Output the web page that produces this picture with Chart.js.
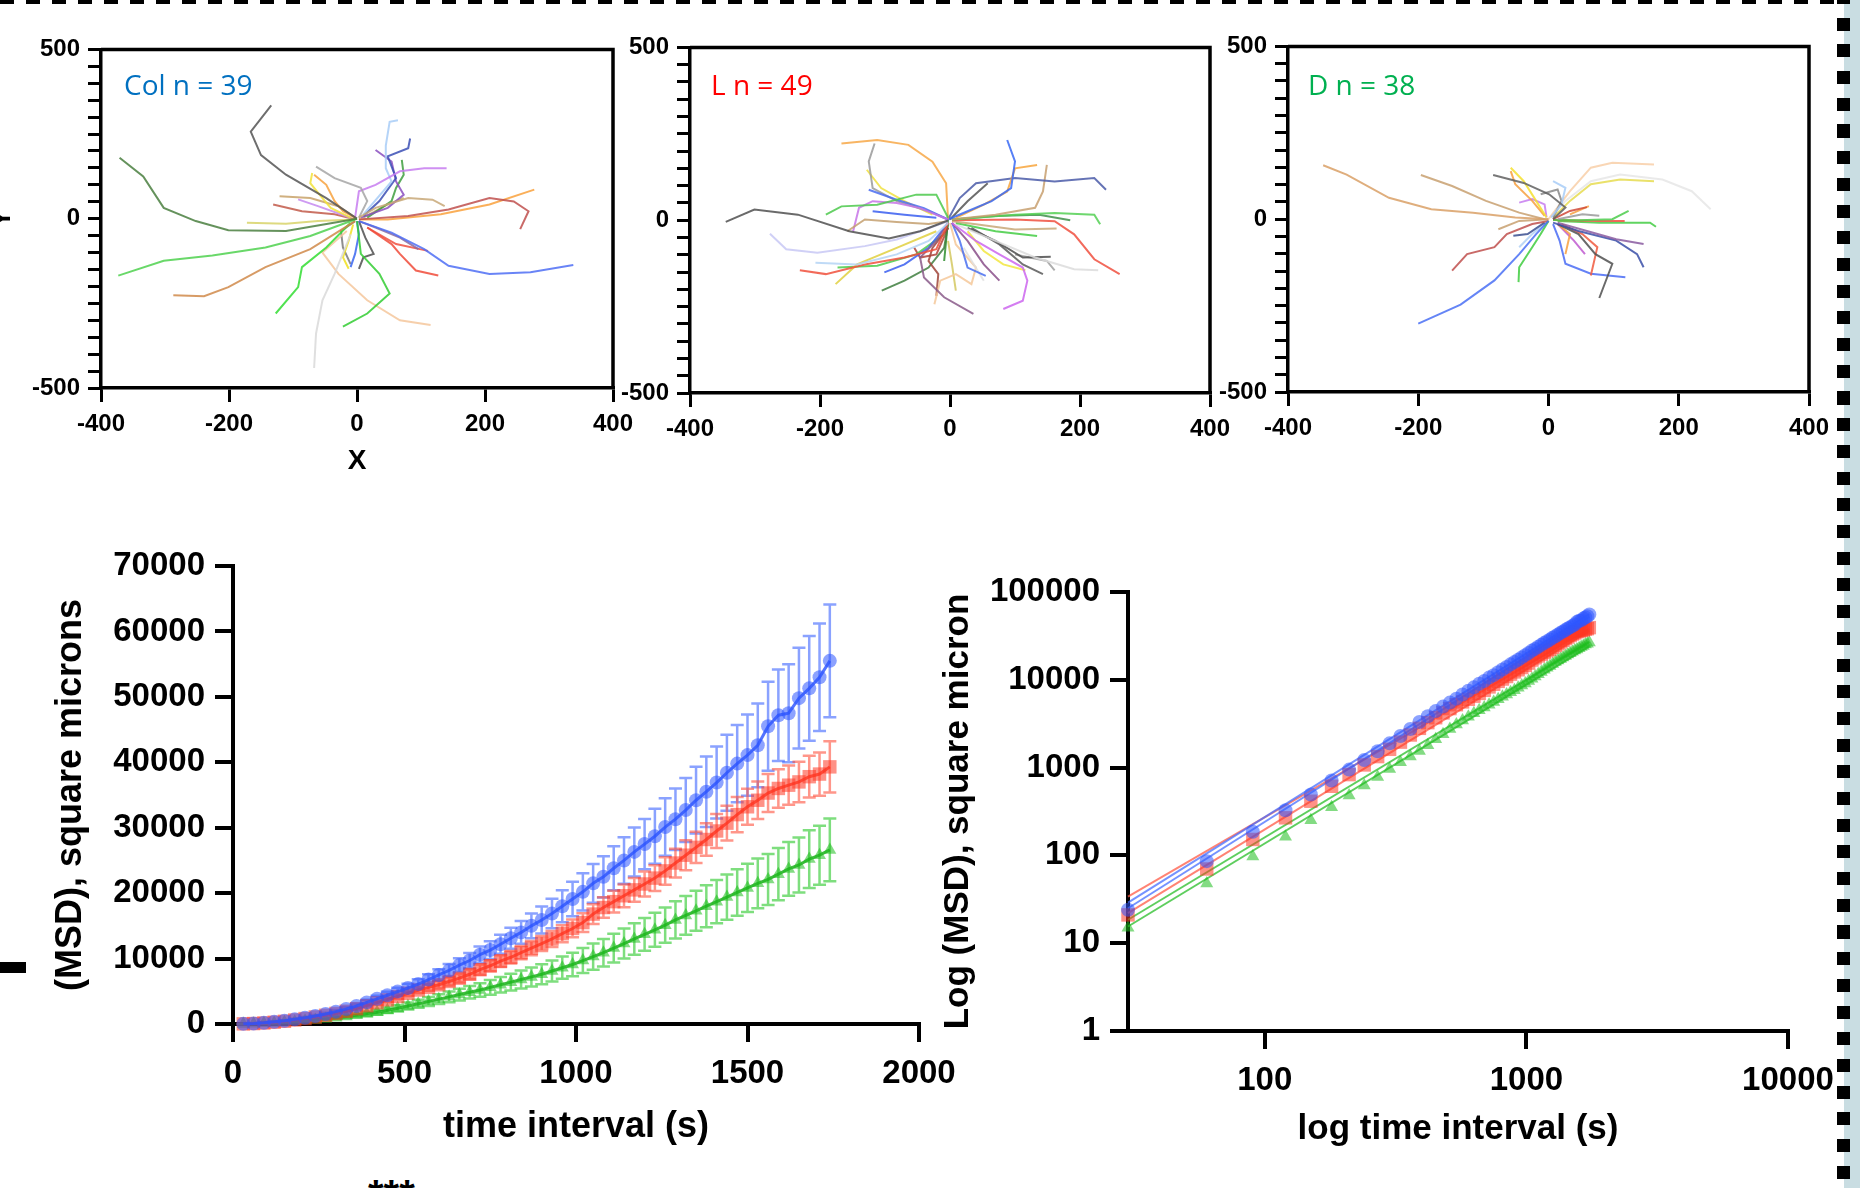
<!DOCTYPE html>
<html><head><meta charset="utf-8">
<script src="https://cdn.jsdelivr.net/npm/chart.js@4.4.1/dist/chart.umd.min.js"></script>
<style>
html,body{margin:0;padding:0;background:#fff;}
#page{position:relative;width:1860px;height:1188px;overflow:hidden;background:#fff;}
canvas{position:absolute;}
.txt{position:absolute;white-space:nowrap;line-height:28px;}
</style></head><body><div id="page">
<div style="position:absolute;left:1844px;top:0;width:16px;height:1188px;background:#c9dde2"></div>
<div style="position:absolute;left:0;top:0;width:1834px;height:4px;background:repeating-linear-gradient(90deg,#000 0 14px,transparent 14px 26px)"></div>
<div style="position:absolute;left:1837px;top:-9px;width:13px;height:1200px;background:repeating-linear-gradient(180deg,#000 0 13px,transparent 13px 26.7px)"></div>
<div style="position:absolute;left:0;top:962px;width:26px;height:11px;background:#000"></div>
<div class="txt" style="left:368px;top:1174px;font:bold 40px 'Liberation Sans',Arial,sans-serif;line-height:40px;color:#000">***</div>
<canvas id="c1"></canvas><canvas id="c2"></canvas><canvas id="c3"></canvas>
<canvas id="c4"></canvas><canvas id="c5"></canvas>
<div class="txt" style="left:124px;top:65px;font:28px 'Open Sans',sans-serif;color:#0070C0">Col n = 39</div>
<div class="txt" style="left:711px;top:65px;font:28px 'Open Sans',sans-serif;color:#FF0000">L n = 49</div>
<div class="txt" style="left:1308px;top:65px;font:28px 'Open Sans',sans-serif;color:#00B050">D n = 38</div>
</div>
<script>
// ---------------- DATA ----------------
const timeSec = [30,60,90,120,150,180,210,240,270,300,330,360,390,420,450,480,510,540,570,600,630,660,690,720,750,780,810,840,870,900,930,960,990,1020,1050,1080,1110,1140,1170,1200,1230,1260,1290,1320,1350,1380,1410,1440,1470,1500,1530,1560,1590,1620,1650,1680,1710,1740];
const msdCol = [24,86,186,327,493,712,949,1222,1535,1890,2290,2750,3300,3850,4400,4950,5500,6100,6800,7500,8200,9000,9700,10600,11300,12200,13100,14000,15000,15900,16900,18000,19100,20200,21500,22500,23800,25000,26300,27500,28700,30100,31300,32700,34200,35500,36900,38400,39800,41100,42600,45500,47200,47500,49800,51300,53000,55500];
const msdL = [21,70,152,268,414,613,832,1072,1334,1615,1950,2350,2800,3250,3700,4200,4700,5200,5600,6000,6500,7000,7600,8300,8900,9600,10200,10900,11600,12300,13000,13800,14600,15500,16800,17800,18700,19600,20500,21400,22300,23400,24600,25800,27000,28200,29500,30700,32000,33200,34200,35300,36000,36500,37000,37800,38200,39300];
const msdD = [15,48,97,163,251,354,481,624,783,966,1150,1335,1550,1800,2100,2400,2750,3100,3450,3800,4150,4500,4850,5200,5600,6000,6400,6800,7200,7600,8100,8600,9100,9700,10300,10900,11600,12300,13000,13700,14400,15100,15900,16600,17300,18000,18700,19400,20100,20800,21500,22100,22900,23700,24300,25200,25800,26600];
const semCol = [5,15,30,50,70,100,130,160,200,240,290,340,400,460,520,590,660,730,800,880,960,1050,1150,1250,1350,1450,1600,1750,1900,2050,2250,2450,2650,2850,2950,3150,3350,3550,3750,3850,4200,4400,4700,4900,5100,5400,5500,5800,5900,6200,6400,6800,7000,7500,7700,8000,8200,8600];
const semL = [4,10,20,30,45,60,80,100,125,150,180,210,250,290,330,370,420,470,510,560,610,660,720,780,840,900,960,1020,1090,1150,1220,1290,1360,1430,1500,1580,1660,1740,1820,1900,1980,2100,2200,2300,2400,2500,2600,2650,2700,2750,2850,2900,2950,3000,3100,3200,3300,3900];
const semD = [3,10,20,33,50,70,95,120,155,190,225,265,310,360,420,480,550,620,690,760,830,900,970,1040,1120,1200,1280,1360,1450,1540,1620,1700,1800,1900,2000,2100,2200,2300,2400,2500,2600,2700,2850,2950,3050,3200,3300,3450,3550,3700,3800,3900,4000,4100,4200,4400,4500,4800];
// power-law fit lines (log plot), values at the two ends
const fitTimes = [30,1740];
const fitColUpper = [29,56000], fitColLower = [25,52000];
const fitLUpper = [34,38000], fitLLower = [22,36000];
const fitDUpper = [18.5,27000], fitDLower = [15.5,24000];
// tick labels
const linXTicks = [0,500,1000,1500,2000];
const logXTicks = [100,1000,10000];
const logYTicks = [1,10,100,1000,10000,100000];
const trackYLabels = [500,0,-500];

// trajectories (x,y in microns)
const colTracks = [
 [[0,0],[-111,-36],[-201,-34],[-252,-7],[-302,32],[-334,125],[-371,180]],
 [[0,0],[-48,61],[-111,130],[-150,188],[-166,257],[-134,335]],
 [[0,0],[-73,-51],[-143,-85],[-226,-109],[-302,-124],[-373,-168]],
 [[-3,-7],[-73,-90],[-143,-143],[-201,-202],[-239,-229],[-287,-226]],
 [[-10,-12],[-48,-85],[-86,-143],[-92,-202],[-127,-280]],
 [[-10,-46],[-35,-163],[-54,-241],[-64,-339],[-67,-441]],
 [[0,-7],[6,-104],[35,-163],[51,-221],[16,-280],[-22,-319]],
 [[-16,-36],[-54,-100],[-29,-163],[16,-241],[67,-300],[115,-314]],
 [[3,-7],[54,-41],[105,-90],[143,-139],[207,-163],[271,-158],[338,-137]],
 [[16,-26],[54,-75],[67,-104],[92,-153],[127,-168]],
 [[3,-2],[80,8],[143,27],[207,61],[245,51],[268,22],[255,-31]],
 [[3,-2],[48,-2],[131,13],[207,42],[277,86]],
 [[3,3],[29,32],[80,61],[118,56],[137,37]],
 [[3,3],[16,52],[6,91],[-35,120],[-64,154]],
 [[-10,3],[-41,32],[-54,61],[-73,105],[-70,135]],
 [[-3,3],[-22,22],[-35,52],[-48,100],[-67,130]],
 [[-3,3],[3,81],[29,100],[67,140],[105,149],[140,149]],
 [[10,13],[54,110],[45,149],[45,216],[51,286],[64,291]],
 [[10,8],[35,52],[61,120],[48,184],[80,208],[83,237]],
 [[6,3],[48,32],[73,71],[61,110],[54,169],[29,203]],
 [[16,3],[54,52],[61,91],[73,130],[70,174]],
 [[10,3],[48,42],[73,61]],
 [[-3,-2],[-61,-7],[-111,-15],[-172,-12]],
 [[-3,3],[-29,37],[-73,61],[-121,66]],
 [[-10,3],[-61,37],[-92,57]],
 [[-3,-2],[-35,13],[-86,22],[-131,42]],
 [[-6,-17],[-13,-65],[-22,-114],[-13,-148]],
 [[0,-7],[3,-46],[-3,-104],[-10,-143]],
 [[3,-7],[13,-56],[26,-104],[10,-114],[3,-148]],
 [[-3,-7],[-25,-36],[-22,-85],[-10,-134]],
 [[3,-7],[29,-26],[67,-56],[96,-90]],
 [[16,-26],[61,-75],[111,-95]]
];
const lTracks = [
 [[-3,-1],[-46,-32],[-94,-53],[-155,-32],[-234,16],[-301,31],[-345,-5]],
 [[-3,-3],[-82,-56],[-131,-75],[-204,-94],[-252,-84],[-277,-39]],
 [[-3,-8],[-33,-60],[-82,-99],[-143,-128],[-207,-123]],
 [[-3,-8],[-21,-84],[-70,-108],[-131,-128],[-191,-156],[-231,-145]],
 [[-3,7],[-21,74],[-52,74],[-112,45],[-167,40],[-191,16]],
 [[-3,-3],[-33,-11],[-82,-5],[-131,2],[-158,-32]],
 [[-3,2],[-46,35],[-82,50],[-119,55],[-140,36],[-149,-32]],
 [[-21,7],[-70,16],[-119,26]],
 [[-3,2],[-40,35],[-82,59],[-125,88]],
 [[-3,2],[-6,107],[-27,169],[-64,218],[-112,232],[-167,222]],
 [[-3,2],[-33,26],[-82,55],[-119,93],[-125,170],[-116,222]],
 [[-27,16],[-70,55],[-106,93],[-128,146]],
 [[-3,2],[27,26],[64,55],[94,93],[100,170],[88,232]],
 [[9,7],[52,45],[88,83],[100,150],[134,160]],
 [[-3,2],[15,64],[40,107],[100,122],[161,112],[222,122],[240,88]],
 [[3,2],[70,16],[131,36],[143,83],[149,160]],
 [[0,2],[27,55],[58,107]],
 [[3,2],[100,16],[161,21],[222,16],[231,-12]],
 [[3,2],[70,12],[137,16],[185,0]],
 [[3,0],[100,2],[161,-3],[191,-41],[222,-113],[261,-156]],
 [[3,-3],[40,-12],[100,-27],[164,-24]],
 [[9,-8],[70,-32],[134,-46]],
 [[9,-12],[70,-60],[131,-108],[191,-142],[228,-145]],
 [[27,-22],[70,-60],[112,-108],[155,-106]],
 [[33,-22],[76,-70],[112,-128],[143,-156]],
 [[100,-99],[149,-118],[161,-145]],
 [[3,-8],[40,-60],[76,-99],[112,-137],[119,-175],[112,-233],[82,-257]],
 [[27,-32],[52,-89],[82,-128],[116,-145]],
 [[3,-8],[27,-60],[52,-128],[76,-175]],
 [[3,-8],[15,-60],[27,-137],[55,-161]],
 [[21,-80],[52,-175]],
 [[-3,-8],[-21,-60],[-46,-108],[-40,-166],[-9,-223],[36,-271]],
 [[0,-8],[9,-70],[40,-137],[33,-185],[9,-156],[-15,-175],[-24,-243]],
 [[-3,-60],[3,-128],[9,-204]],
 [[-3,-22],[-27,-80],[-33,-118],[-18,-156],[-21,-219]],
 [[-3,-12],[-9,-80],[-33,-137],[-70,-175],[-105,-204]],
 [[-3,-8],[-33,-80],[-70,-128],[-101,-151]],
 [[-21,-32],[-82,-80],[-143,-128],[-176,-185]],
 [[-9,-41],[-52,-99],[-112,-132],[-173,-137]],
 [[-3,-22],[-21,-99],[-46,-108],[-55,-80]],
 [[-3,2],[-6,-60],[-9,-118]]
];
const dTracks = [
 [[0,0],[-51,5],[-116,19],[-180,29],[-245,62],[-310,129],[-346,156]],
 [[-6,0],[-45,19],[-96,53],[-148,96],[-196,128]],
 [[7,0],[26,34],[1,72],[-38,105],[-85,128]],
 [[-3,5],[-19,53],[-38,110],[-58,149]],
 [[-6,10],[-25,53],[-51,101],[-58,139]],
 [[-3,5],[-6,43],[-25,58],[-45,48]],
 [[4,5],[20,43],[26,91],[7,110]],
 [[7,5],[20,53],[14,86],[-12,72]],
 [[0,0],[33,81],[65,149],[98,163],[162,158]],
 [[4,5],[26,53],[65,110],[110,129],[175,115],[220,81],[249,29]],
 [[7,5],[33,53],[65,101],[110,115],[162,110]],
 [[7,0],[33,24],[59,35]],
 [[14,0],[52,14],[78,10]],
 [[7,-2],[46,-3],[98,0],[123,24]],
 [[7,-2],[78,-5],[117,-5]],
 [[14,-5],[78,-10],[156,-10],[165,-22]],
 [[14,-10],[59,-34],[104,-58],[146,-72]],
 [[7,-10],[46,-34],[104,-62],[136,-101],[146,-139]],
 [[14,-14],[46,-43],[72,-101],[98,-129],[78,-228]],
 [[20,-14],[52,-43],[75,-81],[65,-163]],
 [[7,-14],[17,-62],[26,-129],[65,-158],[118,-168]],
 [[14,-14],[33,-43],[26,-101]],
 [[14,-14],[39,-62],[56,-101]],
 [[0,-5],[-19,-43],[-45,-101],[-83,-177],[-135,-247],[-200,-302]],
 [[0,-5],[-12,-43],[-25,-81],[-45,-139],[-46,-182]],
 [[0,-5],[-25,-14],[-64,-43],[-83,-81],[-125,-101],[-148,-149]],
 [[-6,-10],[-32,-43],[-54,-48]],
 [[0,-5],[-25,-43],[-45,-81]],
 [[0,0],[-45,-5],[-77,-29]],
 [[33,14],[62,38]]
];
// ---------------- STYLES ----------------
const colColors = ['#4a7f3f','#555555','#4fd14f','#d08a4a','#33dd33','#d9d9d9','#33cc33','#f5c79c','#4f6ff5','#f04b3a','#c0504d','#f9a13c','#c8a878','#a6a6a6','#f2e33a','#f7a23e','#c77df0','#a8cdf7','#3b4fb5','#8a4fbf','#3f9f3f','#c8b26a','#d8d46a','#c8a26a','#c58af0','#c25a4a','#f0e020','#3a66f0','#505050','#7a7a7a','#8a6aa0','#f05040'];
const lColors = ['#505050','#c8c8f5','#b4d4f5','#f0503c','#4cc94c','#c4a070','#c774e8','#3a5ef0','#4a6cf0','#f7a848','#9a9a9a','#f0e040','#3a6af5','#f7a53c','#4a5aa8','#c8a070','#555555','#55d055','#3f8f4a','#f05040','#c8a878','#44cc44','#dcdcdc','#4d4d4d','#5a5a5a','#a0a0a0','#cc66ee','#f2e640','#8a4f8a','#4a70f0','#e0e0e0','#8a5a8a','#f5c89a','#d4c860','#a0453a','#3f7f3f','#3a5ef0','#e0d040','#4ccc4c','#b0443a','#2f8f2f'];
const dColors = ['#d9a066','#c8a070','#606060','#f5e030','#f7a040','#c77df0','#a8cdf7','#8a8a8a','#f8cfa8','#e6e6e6','#e6dc50','#d04a3a','#9a9a9a','#4ccc4c','#f05040','#44cc44','#8a5aa0','#3a4fa8','#505050','#f05a40','#4a6cf5','#f7a040','#c05ad0','#4a70f5','#3fcc3f','#c0504d','#3a4f90','#b0d0f5','#c8a070','#f7a040'];

const FAM = "'Liberation Sans', Arial, Helvetica, sans-serif";
Chart.defaults.font.family = FAM;
Chart.defaults.color = '#000';
const plain = v => String(v);

function rgba(hex, a){const n=parseInt(hex.slice(1),16);return `rgba(${n>>16&255},${n>>8&255},${n&255},${a})`;}
function place(id, area, yW, xH, pad){
  const c = document.getElementById(id);
  const W = pad.l + yW + (area.r-area.l) + pad.r;
  const H = pad.t + (area.b-area.t) + xH + pad.b;
  c.width = W; c.height = H;
  c.style.left = (area.l - yW - pad.l)+'px'; c.style.top = (area.t - pad.t)+'px';
  c.style.width = W+'px'; c.style.height = H+'px';
  return c;
}
const boxPlugin = {id:'box', afterDatasetsDraw(chart){
  const a = chart.chartArea, ctx = chart.ctx; ctx.save();
  ctx.strokeStyle='#000'; ctx.lineWidth=3.5; ctx.beginPath();
  ctx.moveTo(a.left,a.top); ctx.lineTo(a.right,a.top); ctx.lineTo(a.right,a.bottom); ctx.stroke(); ctx.restore();
}};
const errorBarPlugin = {id:'errbars', beforeDatasetsDraw(chart){
  const ctx = chart.ctx, xs = chart.scales.x, ys = chart.scales.y;
  chart.data.datasets.forEach(ds=>{
    if(!ds.errors) return;
    ctx.save(); ctx.strokeStyle = ds.errorColor; ctx.lineWidth = 2.5;
    ds.data.forEach((p,j)=>{
      const e = ds.errors[j], px = xs.getPixelForValue(p.x);
      const yt = ys.getPixelForValue(p.y+e), yb = ys.getPixelForValue(p.y-e);
      ctx.beginPath(); ctx.moveTo(px,yt); ctx.lineTo(px,yb);
      ctx.moveTo(px-6.5,yt); ctx.lineTo(px+6.5,yt);
      ctx.moveTo(px-6.5,yb); ctx.lineTo(px+6.5,yb); ctx.stroke();
    });
    ctx.restore();
  });
}};

function trackChart(id, area, yW, xH, tracks, colors, showX, showY){
  const pad = {l:0,r:34,t:20,b:0};
  const c = place(id, area, yW, xH, pad);
  new Chart(c, {
    type:'scatter',
    data:{datasets: tracks.map((t,i)=>({
      data: t.map(p=>({x:p[0],y:p[1]})), showLine:true, pointRadius:0,
      borderColor: rgba(colors[i%colors.length],0.85), borderWidth:2, tension:0
    }))},
    options:{
      responsive:false, animation:false, devicePixelRatio:1,
      layout:{padding:{left:pad.l,right:pad.r,top:pad.t,bottom:pad.b}},
      plugins:{legend:{display:false}, tooltip:{enabled:false}},
      scales:{
        x:{type:'linear', min:-400, max:400,
          ticks:{stepSize:200, padding:8, maxRotation:0, autoSkip:false, font:{size:24, weight:'bold'}, color:'#000', callback:plain},
          grid:{drawOnChartArea:false, drawTicks:true, tickLength:14, lineWidth:3, color:'#000'},
          border:{display:true, width:3.5, color:'#000'},
          title:{display:showX, text:'X', font:{size:28, weight:'bold'}, color:'#000', padding:0},
          afterFit:s=>{s.height = xH;}},
        y:{type:'linear', min:-500, max:500,
          ticks:{stepSize:50, padding:8, autoSkip:false, font:{size:24, weight:'bold'}, color:'#000',
            callback:v=> trackYLabels.includes(v) ? String(v) : ''},
          grid:{drawOnChartArea:false, drawTicks:true, tickLength:13, lineWidth:3, color:'#000'},
          border:{display:true, width:3.5, color:'#000'},
          title:{display:showY, text:'Y', font:{size:26, weight:'bold'}, color:'#000', padding:0},
          afterFit:s=>{s.width = yW;}}
      }
    },
    plugins:[boxPlugin]
  });
}
trackChart('c1', {l:101,t:47,r:613,b:388}, 114, 90, colTracks, colColors, true, true);
trackChart('c2', {l:690,t:45,r:1210,b:393}, 75, 60, lTracks, lColors, false, false);
trackChart('c3', {l:1288,t:44,r:1809,b:392}, 75, 60, dTracks, dColors, false, false);

const pts = arr => timeSec.map((t,i)=>({x:t, y:arr[i]}));
const BLUE='rgba(45,85,255,0.55)', RED='rgba(255,55,35,0.55)', GREEN='rgba(30,190,30,0.55)';

// ---------- linear MSD chart ----------
{
  const area={l:233,t:566,r:919,b:1024}, yW=184, xH=125, pad={l:0,r:64,t:30,b:0};
  const c = place('c4', area, yW, xH, pad);
  new Chart(c, {
    type:'scatter',
    data:{datasets:[
      {data:pts(msdCol), errors:semCol, errorColor:'rgba(60,100,255,0.6)', showLine:true, borderColor:'rgba(40,80,255,0.8)', borderWidth:3,
       pointStyle:'circle', pointRadius:7, pointBackgroundColor:BLUE, pointBorderWidth:0, clip:false, order:1},
      {data:pts(msdL), errors:semL, errorColor:'rgba(255,80,60,0.6)', showLine:true, borderColor:'rgba(255,50,30,0.8)', borderWidth:3,
       pointStyle:'rect', pointRadius:9.5, pointBackgroundColor:RED, pointBorderWidth:0, clip:false, order:2},
      {data:pts(msdD), errors:semD, errorColor:'rgba(40,200,40,0.6)', showLine:true, borderColor:'rgba(20,170,20,0.8)', borderWidth:3,
       pointStyle:'triangle', pointRadius:7.5, pointBackgroundColor:GREEN, pointBorderWidth:0, clip:false, order:3}
    ]},
    options:{
      responsive:false, animation:false, devicePixelRatio:1,
      layout:{padding:{left:pad.l,right:pad.r,top:pad.t,bottom:pad.b}},
      plugins:{legend:{display:false}, tooltip:{enabled:false}},
      scales:{
        x:{type:'linear', min:0, max:2000,
          afterBuildTicks:s=>{s.ticks = linXTicks.map(v=>({value:v}));},
          ticks:{padding:12, maxRotation:0, autoSkip:false, font:{size:33, weight:'bold'}, color:'#000', callback:plain},
          grid:{drawOnChartArea:false, drawTicks:true, tickLength:18, lineWidth:4, color:'#000'},
          border:{display:true, width:4, color:'#000'},
          title:{display:true, text:'time interval (s)', font:{size:36, weight:'bold'}, color:'#000', padding:0},
          afterFit:s=>{s.height = xH;}},
        y:{type:'linear', min:0, max:70000,
          ticks:{stepSize:10000, padding:10, autoSkip:false, font:{size:33, weight:'bold'}, color:'#000', callback:plain},
          grid:{drawOnChartArea:false, drawTicks:true, tickLength:18, lineWidth:4, color:'#000'},
          border:{display:true, width:4, color:'#000'},
          title:{display:true, text:'(MSD), square microns', font:{size:36, weight:'bold'}, color:'#000', padding:0},
          afterFit:s=>{s.width = yW;}}
      }
    },
    plugins:[errorBarPlugin]
  });
}

// ---------- log-log MSD chart ----------
{
  const area={l:1128,t:592,r:1788,b:1031}, yW=191, xH=119, pad={l:0,r:62,t:30,b:0};
  const c = place('c5', area, yW, xH, pad);
  const fit = (arr,col,ord)=>({data:fitTimes.map((t,i)=>({x:t,y:arr[i]})), showLine:true, borderColor:col, borderWidth:2, pointRadius:0, clip:false, order:ord});
  new Chart(c, {
    type:'scatter',
    data:{datasets:[
      {data:pts(msdCol), showLine:false, pointStyle:'circle', pointRadius:7, pointBackgroundColor:BLUE, pointBorderWidth:0, clip:false, order:1},
      {data:pts(msdL), showLine:false, pointStyle:'rect', pointRadius:9.5, pointBackgroundColor:RED, pointBorderWidth:0, clip:false, order:2},
      {data:pts(msdD), showLine:false, pointStyle:'triangle', pointRadius:7.5, pointBackgroundColor:GREEN, pointBorderWidth:0, clip:false, order:3},
      fit(fitColUpper,'rgba(70,110,255,0.75)',4), fit(fitColLower,'rgba(70,110,255,0.75)',5),
      fit(fitLUpper,'rgba(255,90,70,0.75)',6), fit(fitLLower,'rgba(255,90,70,0.75)',7),
      fit(fitDUpper,'rgba(40,190,40,0.75)',8), fit(fitDLower,'rgba(40,190,40,0.75)',9)
    ]},
    options:{
      responsive:false, animation:false, devicePixelRatio:1,
      layout:{padding:{left:pad.l,right:pad.r,top:pad.t,bottom:pad.b}},
      plugins:{legend:{display:false}, tooltip:{enabled:false}},
      scales:{
        x:{type:'logarithmic', min:30, max:10000,
          afterBuildTicks:s=>{s.ticks = logXTicks.map(v=>({value:v}));},
          ticks:{padding:12, maxRotation:0, autoSkip:false, font:{size:33, weight:'bold'}, color:'#000', callback:plain},
          grid:{drawOnChartArea:false, drawTicks:true, tickLength:18, lineWidth:4, color:'#000'},
          border:{display:true, width:4, color:'#000'},
          title:{display:true, text:'log time interval (s)', font:{size:35, weight:'bold'}, color:'#000', padding:0},
          afterFit:s=>{s.height = xH;}},
        y:{type:'logarithmic', min:1, max:100000,
          afterBuildTicks:s=>{s.ticks = logYTicks.map(v=>({value:v}));},
          ticks:{padding:10, autoSkip:false, font:{size:33, weight:'bold'}, color:'#000', callback:plain},
          grid:{drawOnChartArea:false, drawTicks:true, tickLength:18, lineWidth:4, color:'#000'},
          border:{display:true, width:4, color:'#000'},
          title:{display:true, text:'Log (MSD), square micron', font:{size:35, weight:'bold'}, color:'#000', padding:0},
          afterFit:s=>{s.width = yW;}}
      }
    }
  });
}
</script>
</body></html>
